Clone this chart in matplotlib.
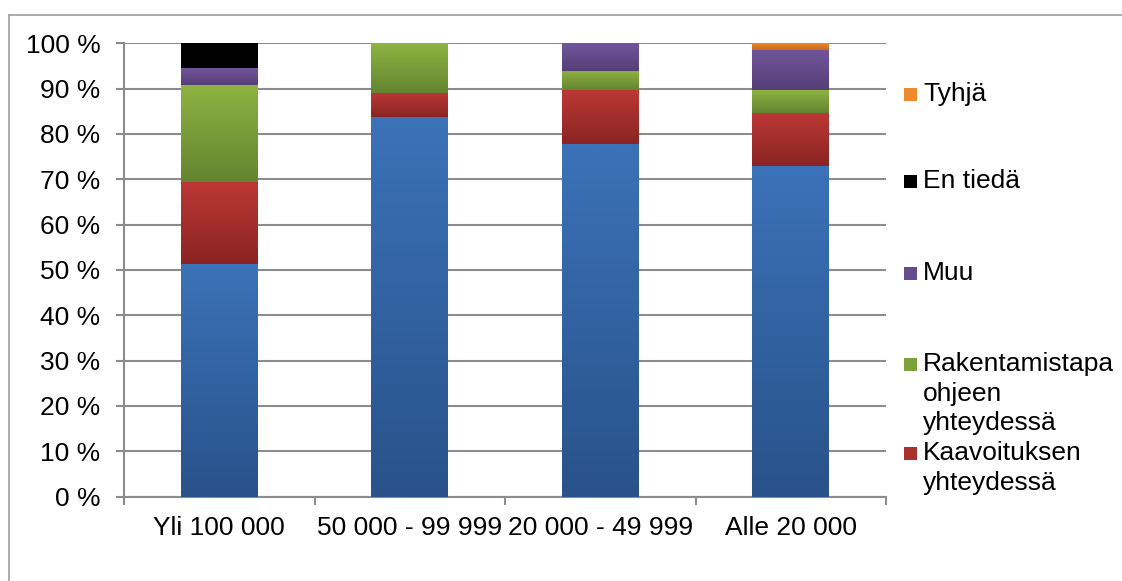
import numpy as np
import matplotlib
matplotlib.use("Agg")
import matplotlib.pyplot as plt
from matplotlib.patches import Rectangle
from matplotlib.lines import Line2D
from matplotlib.ticker import FuncFormatter, FixedLocator

plt.rcParams['font.family'] = ['Liberation Sans', 'DejaVu Sans']

categories = ["Yli 100 000", "50 000 - 99 999", "20 000 - 49 999", "Alle 20 000"]

# series values in percent (bottom to top)
blue_vals = [51.3, 83.8, 77.7, 73.0]          # lowest series (legend entry not visible)
kaavoitus = [18.0, 5.3, 11.9, 11.6]
rakentamistapa = [21.4, 10.9, 4.3, 5.0]
muu = [3.8, 0.0, 6.1, 8.9]
en_tieda = [5.5, 0.0, 0.0, 0.0]
tyhja = [0.0, 0.0, 0.0, 1.5]

series = [
    ("_blue", blue_vals, ("#3B72B8", "#29528A")),
    ("Kaavoituksen\nyhteydessä", kaavoitus, ("#BC3835", "#8A2422")),
    ("Rakentamistapa\nohjeen\nyhteydessä", rakentamistapa, ("#8DB342", "#658430")),
    ("Muu", muu, ("#72559C", "#563F77")),
    ("En tiedä", en_tieda, ("#000000", "#000000")),
    ("Tyhjä", tyhja, ("#EE8A2E", "#C96A1A")),
]

W, H = 1122, 581
fig = plt.figure(figsize=(W / 100, H / 100), dpi=100)

def fx(px):
    return px / W

def fy(py):
    return 1 - py / H

ax = fig.add_axes([fx(124), fy(496.5), fx(886) - fx(124), fy(43.3) - fy(496.5)])

x = np.arange(len(categories))
bottom = np.zeros(len(categories))
width = 0.404
grid_c = "#8C8C8C"
FS = 19

for name, vals, (ctop, cbot) in series:
    vals = np.array(vals)
    bars = ax.bar(x, vals, width, bottom=bottom, color=ctop, zorder=3, linewidth=0)
    c1 = np.array(matplotlib.colors.to_rgb(ctop))
    c2 = np.array(matplotlib.colors.to_rgb(cbot))
    t = np.linspace(0, 1, 64)[:, None]
    grad = (c1 * (1 - t) + c2 * t)[:, None, :]
    for b in bars:
        if b.get_height() <= 0:
            continue
        x0, y0 = b.get_x(), b.get_y()
        w, h = b.get_width(), b.get_height()
        im = ax.imshow(grad, extent=(x0, x0 + w, y0, y0 + h), origin='upper',
                       aspect='auto', zorder=3.5, interpolation='bilinear')
        im.set_clip_path(b)
    bottom = bottom + vals

ax.set_xlim(-0.5, len(categories) - 0.5)
ax.set_ylim(0, 100)

ax.set_yticks(np.arange(0, 101, 10))
ax.yaxis.set_major_formatter(FuncFormatter(lambda v, p: f"{int(round(v))} %"))
ax.grid(axis='y', color=grid_c, linewidth=1.5, zorder=1)
ax.set_axisbelow(True)

ax.set_xticks(x)
ax.set_xticklabels(categories)
ax.xaxis.set_minor_locator(FixedLocator(np.arange(-0.5, len(categories), 1.0)))

ax.tick_params(axis='y', which='major', length=6, width=1.5, color=grid_c,
               labelsize=FS, pad=11, labelcolor='black')
ax.tick_params(axis='x', which='major', length=0, labelsize=FS, pad=14, labelcolor='black')
ax.tick_params(axis='x', which='minor', length=6, width=1.5, color=grid_c)

for s in ['top', 'right']:
    ax.spines[s].set_visible(False)
for s in ['left', 'bottom']:
    ax.spines[s].set_color(grid_c)
    ax.spines[s].set_linewidth(1.5)

# outer chart border (left and top visible)
fig.add_artist(Line2D([fx(8.5), fx(8.5)], [fy(14.5), 0], transform=fig.transFigure,
                      color="#A6A6A6", linewidth=1.3))
fig.add_artist(Line2D([fx(8.5), 1], [fy(14.5), fy(14.5)], transform=fig.transFigure,
                      color="#A6A6A6", linewidth=1.3))

# legend (manual placement, reversed order)
legend_entries = [
    ("Tyhjä", "#EE8A2E", 94),
    ("En tiedä", "#000000", 181.5),
    ("Muu", "#654B8C", 273.5),
    ("Rakentamistapa\nohjeen\nyhteydessä", "#7BA23A", 364.5),
    ("Kaavoituksen\nyhteydessä", "#A93230", 453.5),
]
for label, col, cy in legend_entries:
    fig.add_artist(Rectangle((fx(904), fy(cy + 6.5)), fx(13), fy(0) - fy(13),
                             transform=fig.transFigure, facecolor=col, edgecolor='none'))
    fig.text(fx(923), fy(cy - 12), label, fontsize=FS, va='top', ha='left',
             linespacing=1.28, color='black')

fig.savefig("out.png", dpi=100)
